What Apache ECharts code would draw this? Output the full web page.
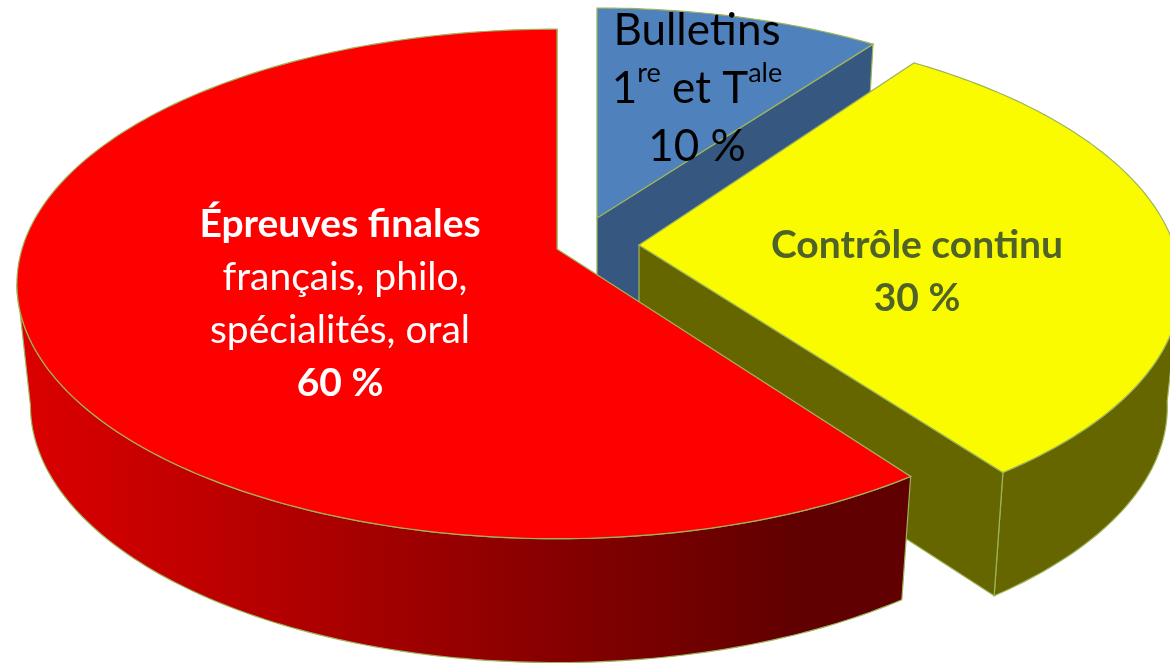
<!DOCTYPE html>
<html>
<head>
<meta charset="utf-8">
<title>Baccalauréat</title>
<style>
  html, body { margin: 0; padding: 0; background: #fff; }
  #chart { width: 1170px; height: 663px; }
</style>
<script src="https://cdn.jsdelivr.net/npm/echarts@6/dist/echarts.min.js"></script>
</head>
<body>
<div id="chart"></div>
<script>
const sliceNames = ['Bulletins', 'Contrôle continu', 'Épreuves finales']
const sliceValues = [10, 30, 60]
const sliceLabels = [
  '{big|Bulletins}\n{big|1}{sup|re}{big| et T}{sup|ale}\n{big|10 %}',
  '{bold|Contrôle continu}\n{bold|30 %}',
  '{bold|Épreuves finales}\n{reg| français, philo,}\n{reg|spécialités, oral}\n{bold|60 %}'
]

// look of each slice
const topColors = ['#4f81bd', '#fbfb00', '#ff0000']
const wallColors = ['#355780', '#666600', '#600000']
const textColors = ['#000000', '#4f6228', '#ffffff']

// centre of each exploded slice and of its label, in px
const apexes = [[597, 218], [639, 245], [557, 249]]
const labelCentres = [[697, 89], [917, 272], [340, 304]]

// each slice sits a little differently in the perspective
const sliceScaleX = [0.975, 1, 1]
const sliceScaleY = [0.955, 1, 1]
const sliceSkew = [0, 0.045, 0]

// perspective of the disc
const radiusX = 535
const radiusY = 250
const tilt = 0.137
const depth = 121
const lowerScaleX = 0.975
const lowerScaleY = 1.01
const lineColor = '#9db35c'

const rimGradient = new echarts.graphic.LinearGradient(20, 0, 905, 0, [
  { offset: 0, color: '#dc0000' },
  { offset: 0.88, color: '#600000' },
  { offset: 1, color: '#600000' }
], true)

/** point of slice index at clockwise angle deg from the back of the pie */
function project(index, deg, lower) {
  const apex = apexes[index]
  const rad = deg * Math.PI / 180
  const u = Math.sin(rad)
  const v = Math.cos(rad)
  const s = 1 / (1 + tilt * v)
  const kx = (lower ? lowerScaleX : 1) * sliceScaleX[index]
  const ky = (lower ? lowerScaleY : 1) * sliceScaleY[index]
  const dy = radiusY * ky * v * s
  return [
    apex[0] + radiusX * kx * u * s - sliceSkew[index] * dy,
    apex[1] + (lower ? depth : 0) - dy
  ]
}

function arc(index, from, to, lower) {
  const points = []
  const steps = Math.max(1, Math.ceil(Math.abs(to - from)))
  for (let i = 0; i <= steps; i++) {
    points.push(project(index, from + (to - from) * i / steps, lower))
  }
  return points
}

function face(points, fill) {
  return {
    type: 'polygon',
    shape: { points },
    style: { fill, stroke: lineColor, lineWidth: 1.2 }
  }
}

function renderSlice(params, api) {
  const index = params.dataIndex
  const apex = apexes[index]
  const total = sliceValues.reduce((a, b) => a + b, 0)
  const before = sliceValues.slice(0, index).reduce((a, b) => a + b, 0)
  const start = before / total * 360
  const end = (before + api.value(0)) / total * 360
  const apexLower = [apex[0], apex[1] + depth]
  const children = []

  // outer rim, only the part that faces the viewer
  const silhouette = Math.acos(-tilt) * 180 / Math.PI
  const rimFrom = Math.max(start, silhouette)
  const rimTo = Math.min(end, 360 - silhouette)
  if (rimFrom < rimTo) {
    const rimPoints = arc(index, rimFrom, rimTo, false).concat(arc(index, rimTo, rimFrom, true))
    children.push(face(rimPoints, index === 2 ? rimGradient : wallColors[index]))
  }

  // cut side of the slice
  children.push(face([apex, project(index, end, false), project(index, end, true), apexLower], wallColors[index]))

  // top of the slice
  children.push(face([apex].concat(arc(index, start, end, false)), topColors[index]))

  children.push({
    type: 'text',
    x: labelCentres[index][0],
    y: labelCentres[index][1],
    style: {
      text: sliceLabels[index],
      align: 'center',
      verticalAlign: 'middle',
      fontFamily: 'Lato',
      rich: {
        big: { fontSize: 44, lineHeight: 58, fill: textColors[index], fontFamily: 'Lato' },
        sup: { fontSize: 27, lineHeight: 50, fill: textColors[index], fontFamily: 'Lato', verticalAlign: 'top' },
        bold: { fontSize: 39, lineHeight: 53, fontWeight: 'bold', fill: textColors[index], fontFamily: 'Lato' },
        reg: { fontSize: 39, lineHeight: 53, fill: textColors[index], fontFamily: 'Lato' }
      }
    }
  })

  return { type: 'group', children }
}

const chart = echarts.init(document.getElementById('chart'), null, { renderer: 'canvas' })
chart.setOption({
  animation: false,
  backgroundColor: '#ffffff',
  series: [
    {
      type: 'custom',
      coordinateSystem: 'none',
      clip: false,
      renderItem: renderSlice,
      data: sliceValues.map((value, i) => ({ name: sliceNames[i], value: [value] }))
    }
  ]
})
</script>
</body>
</html>
